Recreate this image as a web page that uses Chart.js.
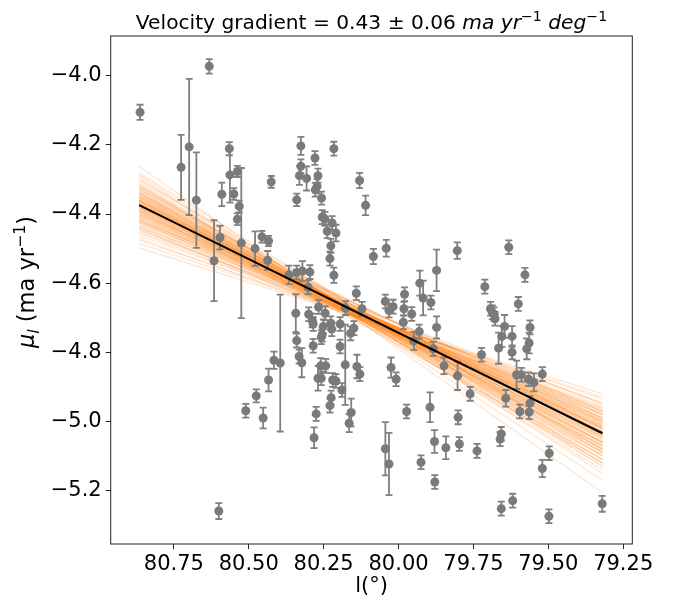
<!DOCTYPE html>
<html><head><meta charset="utf-8">
<script src="https://cdn.jsdelivr.net/npm/chart.js@4/dist/chart.umd.min.js"></script>
<style>html,body{margin:0;padding:0;background:#fff}#wrap{width:681px;height:601px;position:relative}</style>
</head><body><div id="wrap"><canvas id="c"></canvas></div>
<script>
// Galactic longitude l (deg) of each star
const longitude = [
80.863,80.632,80.726,80.699,80.675,80.616,80.596,80.590,80.565,80.563,
80.550,80.538,80.532,80.538,80.525,80.479,80.456,80.434,80.437,80.425,
80.366,80.340,80.340,80.331,80.343,80.340,80.332,80.416,80.395,80.434,
80.475,80.510,80.452,80.600,80.326,80.326,80.307,80.279,80.269,80.278,
80.272,80.257,80.216,80.255,80.246,80.222,80.238,80.209,80.226,80.229,
80.216,80.130,80.110,80.084,80.041,79.804,79.873,79.929,79.918,80.321,
80.296,80.302,80.141,79.980,80.323,80.300,80.288,80.285,80.267,80.285,
80.258,80.251,80.255,80.245,80.226,80.223,80.195,80.195,80.177,80.178,
80.260,80.243,80.269,80.258,80.220,80.209,80.189,80.225,80.229,80.275,
80.282,80.158,80.165,80.160,80.149,80.139,80.129,80.122,80.044,80.032,
80.018,79.984,79.982,79.956,79.892,79.931,79.949,79.873,79.884,79.848,
79.803,79.761,80.025,80.008,79.973,79.895,79.801,79.880,79.842,79.797,
79.738,79.925,79.879,80.044,80.032,79.600,79.693,79.687,79.681,79.678,
79.646,79.655,79.621,79.561,79.564,79.572,79.666,79.621,79.723,79.606,
79.590,79.566,79.548,79.520,79.642,79.561,79.595,79.564,79.657,79.661,
79.520,79.497,79.657,79.619,79.498,79.320,79.632,79.578,79.712
];
// proper motion mu_l (mas/yr)
const muL = [
-4.106,-3.973,-4.265,-4.206,-4.360,-4.535,-4.468,-4.343,-4.211,-4.287,
-4.342,-4.277,-4.378,-4.415,-4.484,-4.500,-4.466,-4.478,-4.534,-4.307,
-4.576,-4.569,-4.359,-4.289,-4.687,-4.766,-4.812,-4.823,-4.831,-4.880,
-4.926,-4.969,-4.990,-5.259,-4.203,-4.262,-4.297,-4.238,-4.289,-4.330,
-4.320,-4.354,-4.211,-4.409,-4.414,-4.426,-4.450,-4.455,-4.492,-4.529,
-4.577,-4.303,-4.375,-4.523,-4.499,-4.506,-4.563,-4.600,-4.643,-4.565,
-4.568,-4.612,-4.629,-4.632,-4.830,-4.690,-4.708,-4.718,-4.669,-4.781,
-4.756,-4.725,-4.749,-4.687,-4.716,-4.733,-4.718,-4.783,-4.672,-4.836,
-4.839,-4.839,-4.875,-4.875,-4.880,-4.883,-4.909,-4.931,-4.954,-4.978,
-5.047,-4.974,-5.005,-4.745,-4.730,-4.841,-4.863,-4.674,-4.653,-4.679,
-4.668,-4.713,-4.674,-4.689,-4.656,-4.740,-4.767,-4.728,-4.790,-4.839,
-4.868,-4.920,-4.844,-4.878,-4.971,-4.959,-4.988,-5.058,-5.076,-5.065,
-5.085,-5.118,-5.175,-5.079,-5.123,-4.660,-4.674,-4.684,-4.690,-4.703,
-4.725,-4.754,-4.754,-4.728,-4.773,-4.790,-4.788,-4.800,-4.807,-4.865,
-4.865,-4.878,-4.887,-4.863,-4.933,-4.947,-4.971,-4.973,-5.036,-5.051,
-5.136,-5.092,-5.252,-5.229,-5.274,-5.238,-4.496,-4.576,-4.610
];
// 1-sigma uncertainty on mu_l
const muErr = [
0.022,0.021,0.094,0.197,0.138,0.117,0.034,0.034,0.019,0.080,
0.017,0.016,0.017,0.017,0.217,0.050,0.017,0.015,0.027,0.017,
0.027,0.020,0.018,0.027,0.055,0.020,0.020,0.025,0.198,0.033,
0.019,0.020,0.030,0.023,0.026,0.020,0.035,0.020,0.020,0.020,
0.020,0.019,0.020,0.020,0.020,0.020,0.020,0.024,0.020,0.020,
0.022,0.022,0.028,0.022,0.024,0.024,0.060,0.036,0.050,0.029,
0.020,0.020,0.020,0.020,0.042,0.020,0.020,0.020,0.020,0.020,
0.020,0.020,0.020,0.020,0.020,0.020,0.020,0.020,0.020,0.116,
0.022,0.020,0.036,0.020,0.020,0.020,0.020,0.020,0.020,0.020,
0.030,0.040,0.026,0.020,0.020,0.034,0.020,0.020,0.020,0.020,
0.020,0.020,0.020,0.020,0.020,0.020,0.026,0.032,0.020,0.024,
0.041,0.020,0.029,0.020,0.020,0.043,0.020,0.033,0.033,0.020,
0.020,0.020,0.020,0.077,0.090,0.020,0.020,0.020,0.020,0.020,
0.033,0.030,0.030,0.020,0.030,0.030,0.045,0.020,0.020,0.041,
0.020,0.020,0.026,0.020,0.024,0.020,0.020,0.020,0.020,0.020,
0.025,0.020,0.020,0.020,0.020,0.023,0.020,0.020,0.020
];
// best fit line ends
const fitL = [80.866, 79.319];
const fitMu = [-4.374, -5.034];
// posterior sample lines: mu at left end (l=80.866) and right end (l=79.319)
const sampleLeft = [
-4.262,-4.285,-4.298,-4.305,-4.312,-4.318,-4.322,-4.327,-4.330,-4.334,
-4.338,-4.340,-4.344,-4.347,-4.350,-4.352,-4.355,-4.358,-4.360,-4.362,
-4.365,-4.367,-4.370,-4.372,-4.374,-4.376,-4.378,-4.381,-4.383,-4.386,
-4.388,-4.391,-4.394,-4.397,-4.400,-4.403,-4.406,-4.410,-4.414,-4.418,
-4.422,-4.427,-4.432,-4.438,-4.445,-4.452,-4.462,-4.475,-4.498,-4.340,
-4.360,-4.380,-4.400,-4.330,-4.370,-4.390,-4.350,-4.410,-4.420,-4.360,
-4.300,-4.315,-4.325,-4.335,-4.345,-4.355,-4.365,-4.375,-4.385,-4.395,
-4.405,-4.415,-4.425,-4.435,-4.445,-4.455,-4.290,-4.280,-4.470,-4.485,
-4.350,-4.360,-4.370,-4.380,-4.390,-4.400,-4.420,-4.340,-4.320,-4.440
];
const sampleRight = [
-5.206,-5.150,-5.128,-5.140,-5.110,-5.098,-5.120,-5.085,-5.100,-5.076,
-5.090,-5.068,-5.080,-5.060,-5.072,-5.052,-5.064,-5.045,-5.058,-5.038,
-5.050,-5.030,-5.044,-5.024,-5.036,-5.018,-5.030,-5.012,-5.024,-5.006,
-5.018,-5.000,-5.012,-4.994,-5.004,-4.988,-4.998,-4.980,-4.990,-4.972,
-4.982,-4.964,-4.975,-4.956,-4.966,-4.948,-4.945,-4.935,-4.920,-5.020,
-5.000,-5.060,-5.040,-5.040,-4.990,-5.070,-5.100,-5.020,-4.950,-5.110,
-5.090,-5.130,-5.060,-5.110,-5.040,-5.090,-5.020,-5.070,-5.045,-5.030,
-5.015,-5.005,-4.995,-4.990,-4.980,-4.970,-5.170,-5.120,-4.960,-4.930,
-5.030,-5.080,-5.060,-4.980,-5.050,-4.970,-5.010,-5.120,-5.080,-5.000
];
const xTicks = [80.75, 80.50, 80.25, 80.00, 79.75, 79.50, 79.25];
const yTicks = [-5.2, -5.0, -4.8, -4.6, -4.4, -4.2, -4.0];

const FONT = "'DejaVu Sans', sans-serif";

function drawRich(ctx, segs, x, y, size) {
  let total = 0;
  const parts = segs.map(s => {
    const fs = (s.sup || s.sub) ? size * 0.7 : size;
    ctx.font = (s.it ? 'italic ' : '') + fs + 'px ' + FONT;
    const w = ctx.measureText(s.t).width;
    total += w;
    return {s, fs, w};
  });
  let cx = x - total / 2;
  ctx.textBaseline = 'alphabetic';
  ctx.textAlign = 'left';
  for (const p of parts) {
    ctx.font = (p.s.it ? 'italic ' : '') + p.fs + 'px ' + FONT;
    let dy = 0;
    if (p.s.sup) dy = -size * 0.42;
    if (p.s.sub) dy = size * 0.22;
    ctx.fillText(p.s.t, cx, y + dy);
    cx += p.w;
  }
}

const errorBars = {
  id: 'errorBars',
  beforeDatasetDraw(chart, args) {
    if (args.index !== 1) return;
    const {ctx, scales: {x, y}} = chart;
    ctx.save();
    ctx.strokeStyle = '#808080';
    ctx.lineWidth = 1.8;
    for (let i = 0; i < longitude.length; i++) {
      const px = x.getPixelForValue(longitude[i]);
      const top = y.getPixelForValue(muL[i] + muErr[i]);
      const bot = y.getPixelForValue(muL[i] - muErr[i]);
      ctx.beginPath();
      ctx.moveTo(px, top); ctx.lineTo(px, bot);
      ctx.moveTo(px - 3.5, top); ctx.lineTo(px + 3.5, top);
      ctx.moveTo(px - 3.5, bot); ctx.lineTo(px + 3.5, bot);
      ctx.stroke();
    }
    ctx.restore();
  }
};

const decor = {
  id: 'decor',
  afterDraw(chart) {
    const {ctx, chartArea: a} = chart;
    ctx.save();
    ctx.strokeStyle = '#222';
    ctx.lineWidth = 1;
    ctx.strokeRect(a.left, a.top, a.right - a.left, a.bottom - a.top);
    ctx.fillStyle = '#000';
    const cx = (a.left + a.right) / 2;
    drawRich(ctx, [
      {t: 'Velocity gradient = 0.43 \u00b1 0.06 '},
      {t: 'ma', it: true}, {t: ' '}, {t: 'yr', it: true}, {t: '\u22121', sup: true},
      {t: ' '}, {t: 'deg', it: true}, {t: '\u22121', sup: true}
    ], cx, 29, 20.2);
    drawRich(ctx, [{t: 'l(\u00b0)'}], cx, 592, 21);
    ctx.translate(34, (a.top + a.bottom) / 2 - 8);
    ctx.rotate(-Math.PI / 2);
    drawRich(ctx, [
      {t: '\u03bc', it: true}, {t: 'l', it: true, sub: true},
      {t: ' (ma yr'}, {t: '\u22121', sup: true}, {t: ')'}
    ], 0, 0, 22.5);
    ctx.restore();
  }
};

const datasets = [];
datasets.push({
  type: 'line',
  data: [{x: fitL[0], y: fitMu[0]}, {x: fitL[1], y: fitMu[1]}],
  borderColor: '#000', borderWidth: 2, pointRadius: 0
});
datasets.push({
  type: 'scatter',
  data: longitude.map((l, i) => ({x: l, y: muL[i]})),
  backgroundColor: '#7a7a7a', borderColor: '#7a7a7a', pointRadius: 4.5, borderWidth: 0
});
for (let i = 0; i < sampleLeft.length; i++) {
  datasets.push({
    type: 'line',
    data: [{x: fitL[0], y: sampleLeft[i]}, {x: fitL[1], y: sampleRight[i]}],
    borderColor: 'rgba(255,127,14,0.2)', borderWidth: 1.2, pointRadius: 0
  });
}

new Chart(document.getElementById('c'), {
  data: {datasets},
  plugins: [errorBars, decor],
  options: {
    responsive: true, maintainAspectRatio: false, animation: false,
    layout: {padding: {top: 36, right: 48.7, left: 0, bottom: 0}},
    plugins: {legend: {display: false}, tooltip: {enabled: false}, title: {display: false}},
    scales: {
      x: {
        type: 'linear', reverse: true, min: 79.2196, max: 80.961,
        afterBuildTicks: s => { s.ticks = xTicks.map(v => ({value: v})); },
        afterFit: s => { s.height = 57; },
        grid: {drawOnChartArea: false, drawTicks: true, tickLength: 5, color: '#222'},
        border: {display: false},
        ticks: {color: '#000', padding: 3, maxRotation: 0, autoSkip: false,
          font: {family: FONT, size: 21}, callback: v => v.toFixed(2)}
      },
      y: {
        type: 'linear', min: -5.3543, max: -3.8852,
        afterBuildTicks: s => { s.ticks = yTicks.map(v => ({value: v})); },
        afterFit: s => { s.width = 110.7; },
        grid: {drawOnChartArea: false, drawTicks: true, tickLength: 5, color: '#222'},
        border: {display: false},
        ticks: {color: '#000', padding: 4, autoSkip: false,
          font: {family: FONT, size: 21}, callback: v => v.toFixed(1).replace('-', '\u2212')}
      }
    }
  }
});
</script></body></html>
